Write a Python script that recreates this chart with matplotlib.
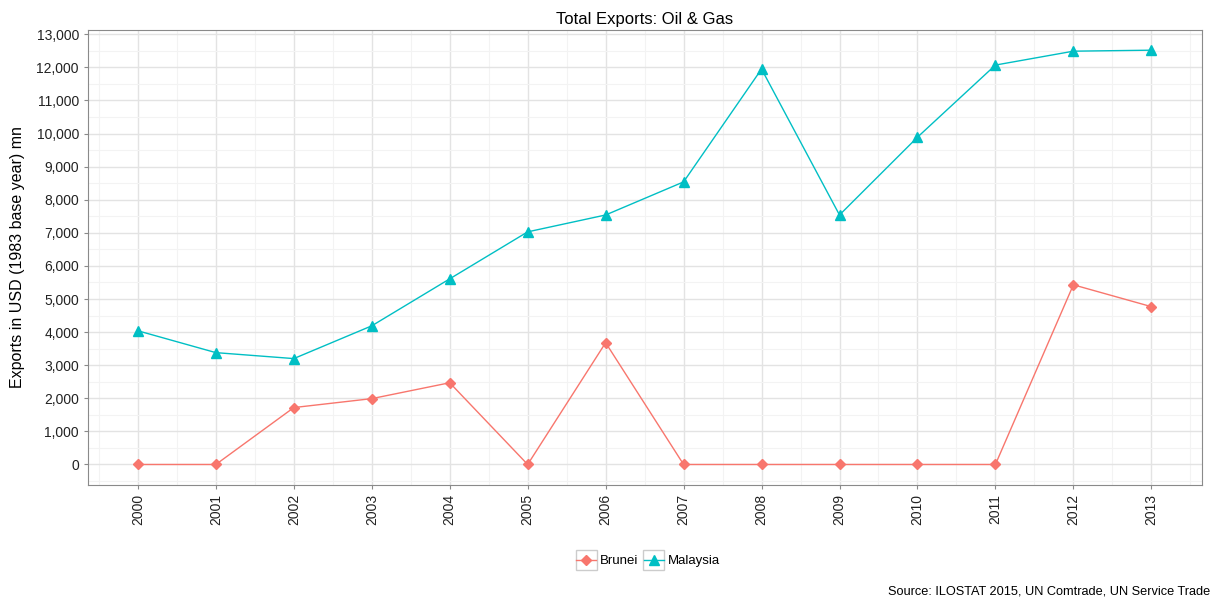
import matplotlib.pyplot as plt
import numpy as np
from matplotlib.ticker import FuncFormatter, MultipleLocator
from matplotlib.patches import Rectangle

plt.rcParams['font.family'] = ['Liberation Sans', 'DejaVu Sans']

years = list(range(2000, 2014))
brunei = [0, 0, 1720, 1990, 2470, 0, 3680, 0, 0, 0, 0, 0, 5430, 4770]
malaysia = [4040, 3380, 3200, 4190, 5610, 7030, 7540, 8540, 11950,
            7540, 9890, 12070, 12490, 12520]

red = '#F8766D'
teal = '#00BFC4'

fig = plt.figure(figsize=(12.11, 5.99), dpi=100)
ax = fig.add_axes((88 / 1211, 114 / 599, 1114 / 1211, 455 / 599))

ax.plot(years, brunei, color=red, lw=1, marker='D', ms=5, label='Brunei')
ax.plot(years, malaysia, color=teal, lw=1, marker='^', ms=7, label='Malaysia')

ax.set_xlim(1999.36, 2013.65)
ax.set_ylim(-620, 13130)
ax.set_xticks(years)
ax.set_xticklabels([str(y) for y in years], rotation=90)
ax.set_xticks(np.arange(1999.5, 2013.6, 1), minor=True)
ax.yaxis.set_major_locator(MultipleLocator(1000))
ax.yaxis.set_minor_locator(MultipleLocator(500))
ax.yaxis.set_major_formatter(FuncFormatter(lambda v, p: f'{int(v):,}'))

ax.grid(True, which='major', color='#e3e3e3', lw=1)
ax.grid(True, which='minor', color='#f3f3f3', lw=0.8)
ax.set_axisbelow(True)
for s in ax.spines.values():
    s.set_color('#8a8a8a')
ax.tick_params(which='major', length=3, color='#8a8a8a', labelsize=10,
               labelcolor='#222222')
ax.tick_params(which='minor', length=0)

ax.set_title('Total Exports: Oil & Gas', fontsize=12, pad=4)
ax.set_ylabel('Exports in USD (1983 base year) mn', fontsize=11.5, labelpad=8)

leg = fig.legend(loc='center', bbox_to_anchor=(648 / 1211, 1 - 561 / 599),
                 ncol=2, frameon=False, fontsize=9.5, handlelength=1.5,
                 columnspacing=0.4, handletextpad=0.3)

# grey key boxes like ggplot legend keys
fig.canvas.draw()
r = fig.canvas.get_renderer()
for h in leg.legend_handles:
    bb = h.get_window_extent(r)
    cx, cy = (bb.x0 + bb.x1) / 2, (bb.y0 + bb.y1) / 2
    fig.patches.append(Rectangle(((cx - 10.5) / 1211, (cy - 10) / 599),
                                 21 / 1211, 20 / 599,
                                 transform=fig.transFigure, fill=False,
                                 ec='#cccccc', lw=1))

fig.text(888 / 1211, 1 - 592 / 599, 'Source: ILOSTAT 2015, UN Comtrade, UN Service Trade',
         fontsize=9.2, va='center', ha='left')

fig.savefig('out.png', dpi=100)
